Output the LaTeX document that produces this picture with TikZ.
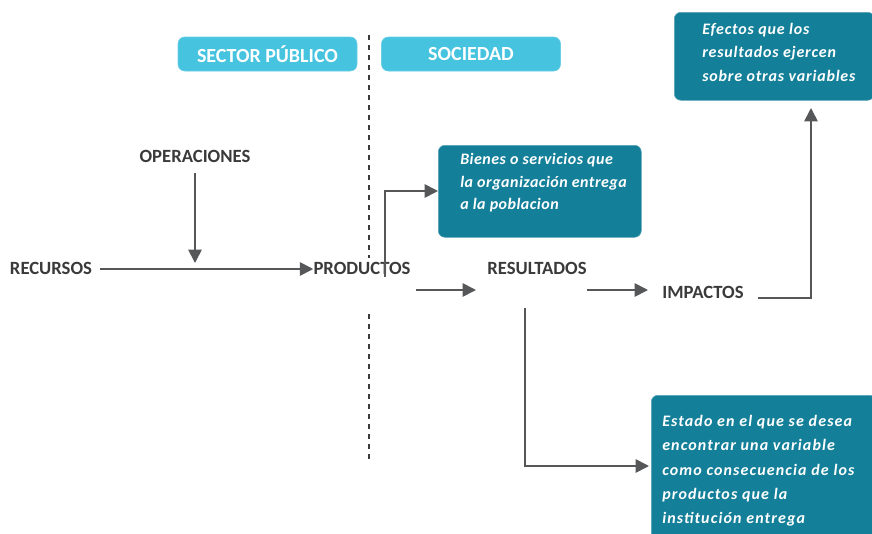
\documentclass[tikz,border=0pt]{standalone}
\usepackage{fontspec}
\setmainfont{Carlito}
\newfontfamily\boxfontA[LetterSpace=3]{Carlito}
\newfontfamily\boxfontB[LetterSpace=7]{Carlito}
\newfontfamily\boxfontC[LetterSpace=5]{Carlito}
\usetikzlibrary{arrows.meta}
\definecolor{lightcyan}{HTML}{45C3DF}
\definecolor{darkteal}{HTML}{137F98}
\definecolor{linegray}{HTML}{555759}
\definecolor{txtgray}{HTML}{3A3A3A}
\tikzset{
  headbox/.style={fill=lightcyan, draw=lightcyan!80!white, rounded corners=5pt, minimum width=179*0.75pt, minimum height=34*0.75pt, inner sep=0pt, text=white, font=\fontsize{15}{15}\selectfont\bfseries},
  tealbox/.style={fill=darkteal, draw=darkteal!70!white, rounded corners=5pt, inner sep=0pt, anchor=north west},
  boxtext/.style={anchor=north west, align=left, inner sep=0pt, text=white},
  lbl/.style={inner sep=0pt, text=txtgray, font=\fontsize{14}{14}\selectfont\bfseries},
  conn/.style={draw=linegray, line width=1.3pt, -{Triangle[length=10pt,width=10pt]}},
  divider/.style={draw=txtgray, line width=1pt, dash pattern=on 4pt off 3.5pt}
}
\begin{document}
\begin{tikzpicture}[x=0.75pt,y=-0.75pt]
\useasboundingbox (0,0) rectangle (872,533);
\fill[white] (0,0) rectangle (872,533);

% divider
\coordinate (d1) at (369,35);
\coordinate (d2) at (369,258);
\coordinate (d3) at (369,314);
\coordinate (d4) at (369,460);
\draw[divider] (d1) -- (d2);
\draw[divider] (d3) -- (d4);

% headers
\node[headbox] (sp) at (267.5,54) {SECTOR PÚBLICO};
\node[headbox] (soc) at (471,54) {SOCIEDAD};

% teal boxes
\node[tealbox, minimum width=200*0.75pt, minimum height=88*0.75pt] (efb) at (674,12) {};
\node[boxtext, font=\boxfontC\fontsize{12}{17.6}\selectfont\bfseries\itshape] (eft) at (702,23) {Efectos que los\\resultados ejercen\\sobre otras variables};
\node[tealbox, minimum width=203*0.75pt, minimum height=92*0.75pt] (bib) at (438,145) {};
\node[boxtext, font=\boxfontA\fontsize{12}{17}\selectfont\bfseries\itshape] (bit) at (460,153) {Bienes o servicios que\\la organización entrega\\a la poblacion};
\node[tealbox, minimum width=225*0.75pt, minimum height=150*0.75pt] (esb) at (651,395) {};
\node[boxtext, font=\boxfontB\fontsize{12}{18.2}\selectfont\bfseries\itshape] (est) at (662,415) {Estado en el que se desea\\encontrar una variable\\como consecuencia de los\\productos que la\\institución entrega};

% labels
\node[lbl] (ops) at (195,156) {OPERACIONES};
\node[lbl] (rec) at (51,268) {RECURSOS};
\node[lbl] (prod) at (362,268) {PRODUCTOS};
\node[lbl] (res) at (537,268) {RESULTADOS};
\node[lbl] (imp) at (703,292) {IMPACTOS};

% connectors
\coordinate (opsEnd) at (195,263);
\draw[conn] (ops.south |- 0,173) -- (opsEnd);
\draw[conn] (rec.east |- 0,269) ++(8,0) -- (prod.west |- 0,269);
\coordinate (bStart) at (385,277);
\draw[conn] (bStart) |- (bib.west |- 0,191);
\coordinate (a1s) at (416,290);
\coordinate (a1e) at (476,290);
\draw[conn] (a1s) -- (a1e);
\coordinate (a2s) at (587,290);
\coordinate (a2e) at (648,290);
\draw[conn] (a2s) -- (a2e);
\coordinate (iStart) at (758,298);
\coordinate (iEnd) at (811,108);
\draw[conn] (iStart) -| (iEnd);
\coordinate (rStart) at (525,308);
\coordinate (rEnd) at (649,466);
\draw[conn] (rStart) |- (rEnd);
\end{tikzpicture}
\end{document}
